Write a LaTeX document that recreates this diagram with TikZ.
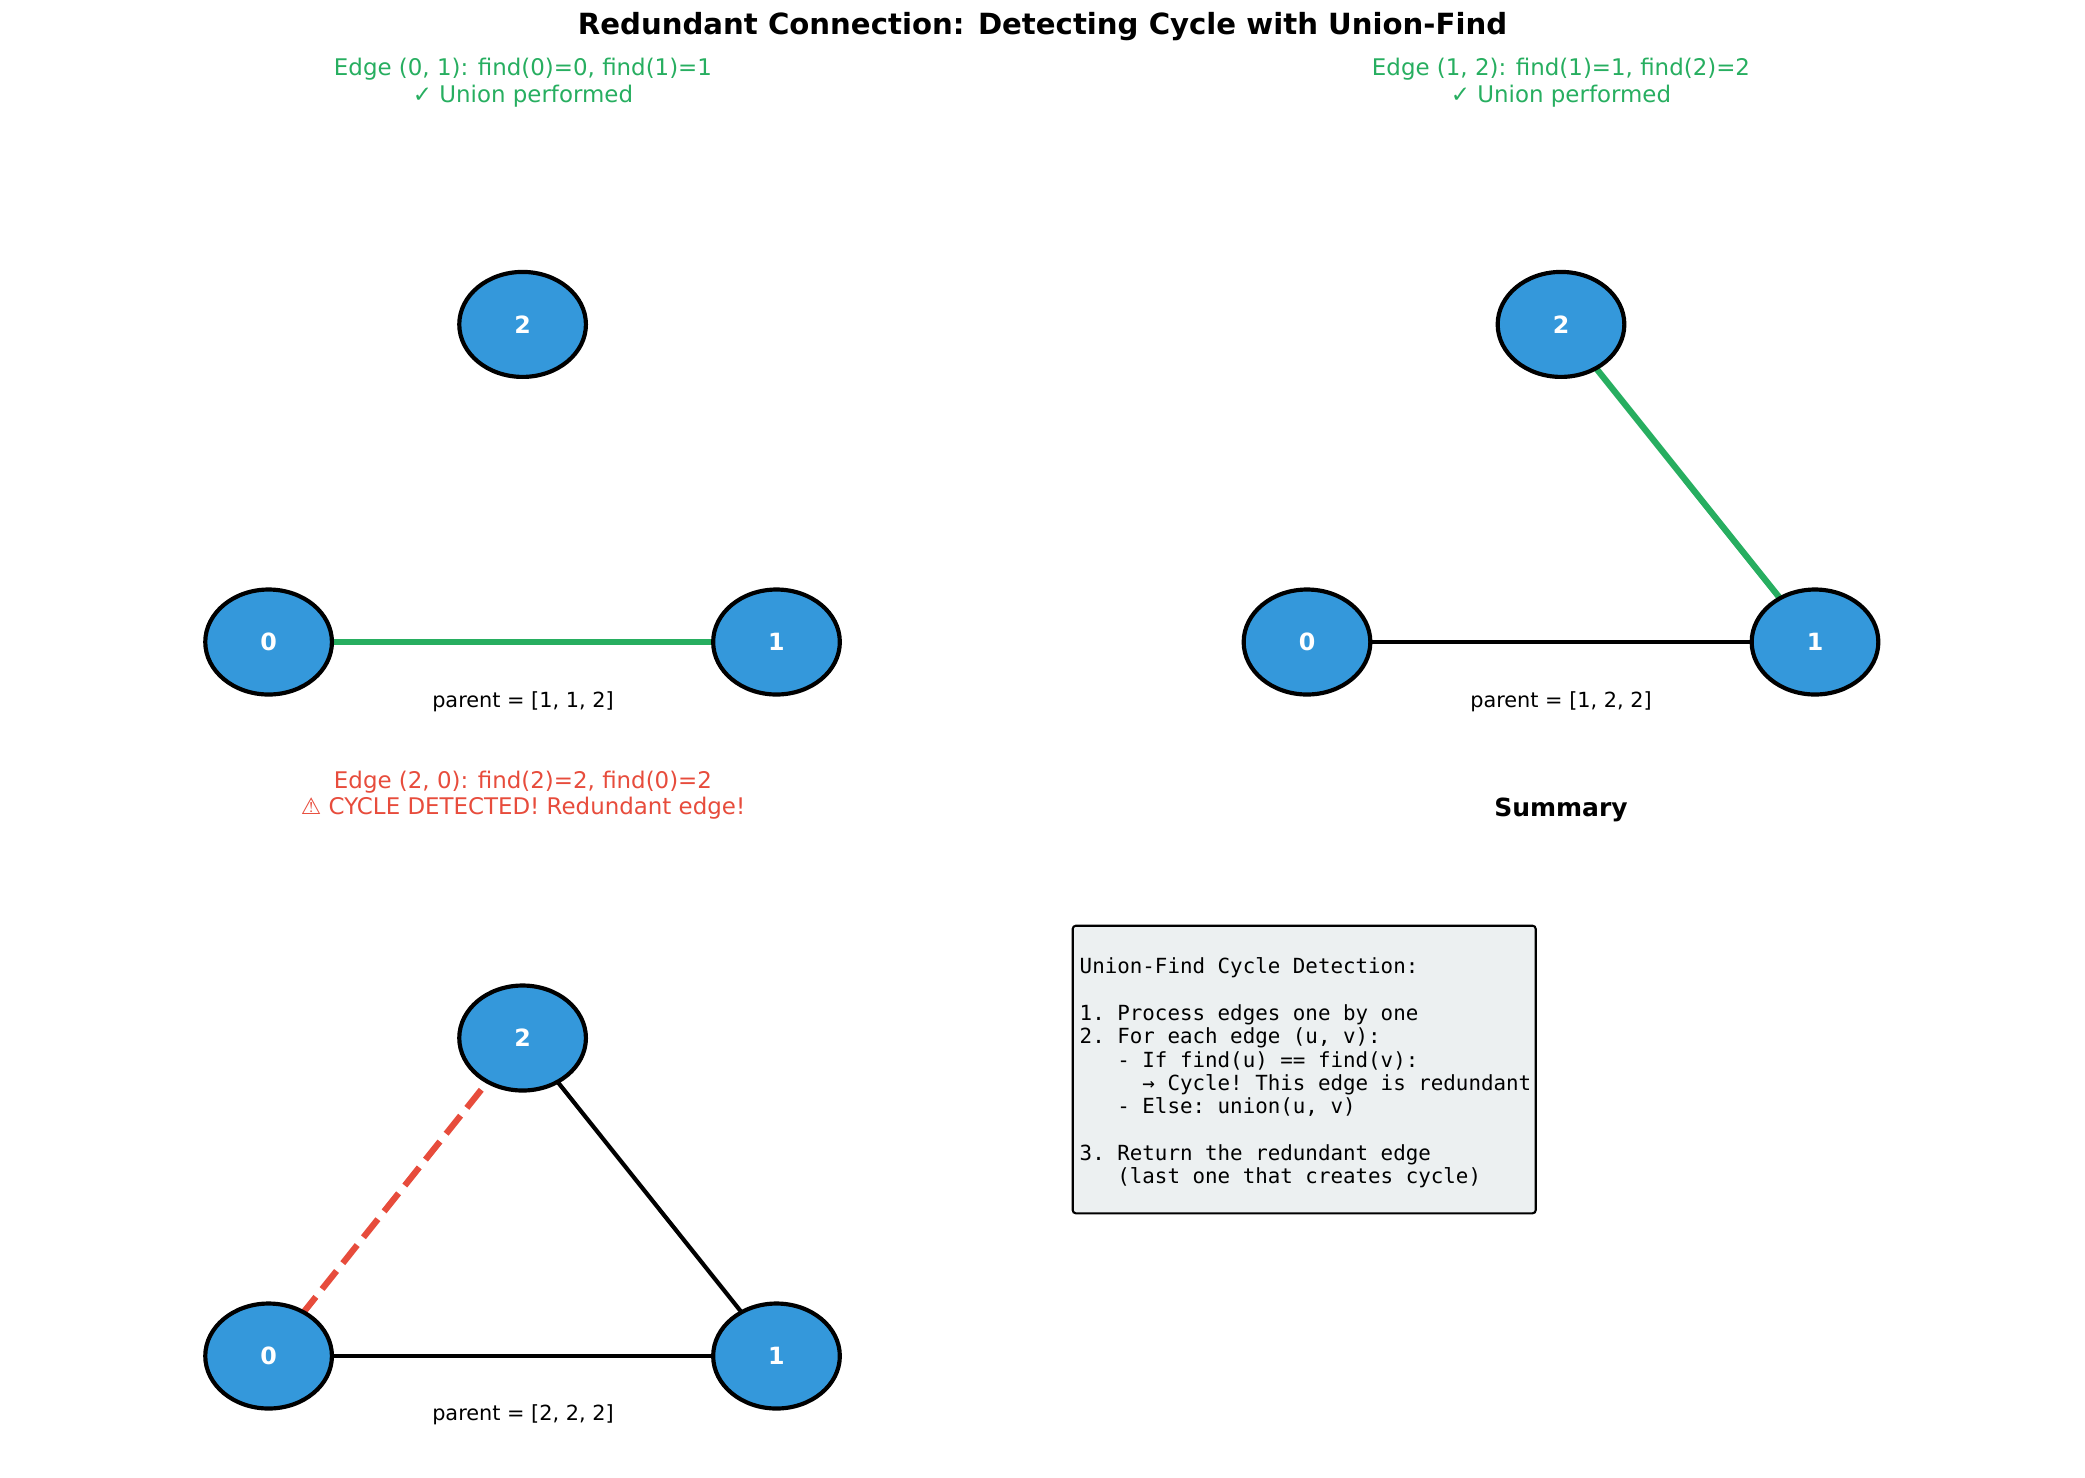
\documentclass[tikz,border=0pt]{standalone}
\usepackage{fontspec}
\setmainfont{DejaVu Sans}
\setmonofont{DejaVu Sans Mono}
\usetikzlibrary{shapes.geometric,backgrounds}
\definecolor{nodeblue}{HTML}{3498DB}
\definecolor{okgreen}{HTML}{27AE60}
\definecolor{badred}{HTML}{E74C3C}
\definecolor{boxgray}{HTML}{ECF0F1}
\begin{document}
\begin{tikzpicture}[x=0.48pt,y=-0.48pt,
  vert/.style={ellipse, draw=black, line width=2pt, fill=nodeblue, minimum width=60.8pt, minimum height=50.4pt, inner sep=0pt, text=white, font=\bfseries\fontsize{11.4}{13}\selectfont},
  greenedge/.style={draw=okgreen, line width=3pt},
  blackedge/.style={draw=black, line width=2pt},
  rededge/.style={draw=badred, line width=3pt, dash pattern=on 11.1pt off 4.8pt},
  title/.style={font=\bfseries\fontsize{14}{17}\selectfont},
  sub/.style={align=center, font=\fontsize{11}{12.8}\selectfont},
  parentlbl/.style={font=\fontsize{10}{12}\selectfont},
  codeline/.style={anchor=base west, inner sep=0pt, font=\ttfamily\fontsize{10}{12}\selectfont}
]
\useasboundingbox (0,0) rectangle (2085,1477);
\node[title] (title) at (1042.5,26.6) {Redundant Connection: Detecting Cycle with Union-Find};

% Panel 1
\node[sub, text=okgreen] (t1) at (523,82.4) {Edge (0, 1): find(0)=0, find(1)=1\\✓ Union performed};
\node[vert] (a0) at (268.6,642) {0};
\node[vert] (a1) at (776.5,642) {1};
\node[vert] (a2) at (522.6,324.4) {2};
\node[parentlbl] (p1) at (523,702) {parent = [1, 1, 2]};

% Panel 2
\node[sub, text=okgreen] (t2) at (1561,82.4) {Edge (1, 2): find(1)=1, find(2)=2\\✓ Union performed};
\node[vert] (b0) at (1307,642) {0};
\node[vert] (b1) at (1815,642) {1};
\node[vert] (b2) at (1561,324.4) {2};
\node[parentlbl] (p2) at (1561,702) {parent = [1, 2, 2]};

% Panel 3
\node[sub, text=badred] (t3) at (523,795) {Edge (2, 0): find(2)=2, find(0)=2\\\smash{⚠} CYCLE DETECTED! Redundant edge!};
\node[vert] (c0) at (268.6,1356) {0};
\node[vert] (c1) at (776.5,1356) {1};
\node[vert] (c2) at (522.6,1038) {2};
\node[parentlbl] (p3) at (523,1414.7) {parent = [2, 2, 2]};

\begin{pgfonlayer}{background}
\draw[greenedge] (a0.center) -- (a1.center);
\draw[blackedge] (b0.center) -- (b1.center);
\draw[greenedge] (b1.center) -- (b2.center);
\draw[blackedge] (c0.center) -- (c1.center);
\draw[blackedge] (c1.center) -- (c2.center);
\draw[rededge] (c2.center) -- (c0.center);
\end{pgfonlayer}

% Summary
\node[font=\bfseries\fontsize{12}{14}\selectfont] (sumtitle) at (1561,809.8) {Summary};
\draw[draw=black, line width=1pt, fill=boxgray, rounded corners=1.5pt] (1072.7,925.7) rectangle (1535.7,1213.3);
\node[codeline] (l1) at (1079.3,973.8) {Union-Find Cycle Detection:};
\node[codeline] (l2) at (1079.3,1020.4) {1. Process edges one by one};
\node[codeline] (l3) at (1079.3,1043.7) {2. For each edge (u, v):};
\node[codeline] (l4) at (1079.3,1067.0) {\phantom{---}- If find(u) == find(v):};
\node[codeline] (l5) at (1079.3,1090.3) {\phantom{-----}→ Cycle! This edge is redundant};
\node[codeline] (l6) at (1079.3,1113.6) {\phantom{---}- Else: union(u, v)};
\node[codeline] (l7) at (1079.3,1160.2) {3. Return the redundant edge};
\node[codeline] (l8) at (1079.3,1183.5) {\phantom{---}(last one that creates cycle)};
\end{tikzpicture}
\end{document}
